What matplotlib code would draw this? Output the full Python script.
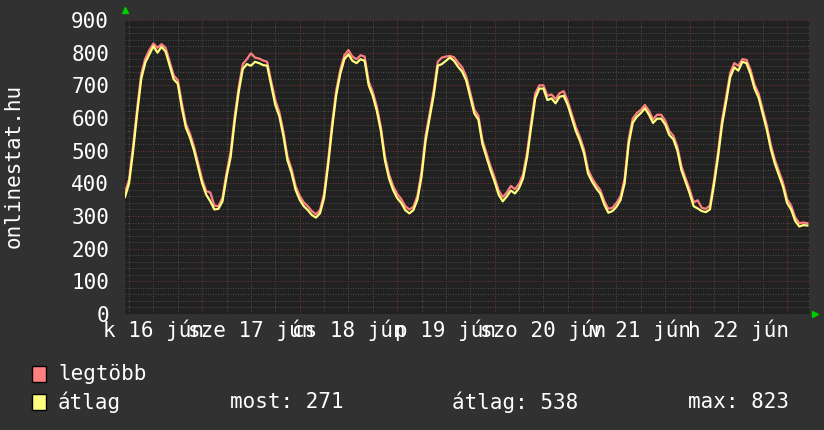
import matplotlib
matplotlib.use("Agg")
import matplotlib.pyplot as plt
from matplotlib.patches import Rectangle
import numpy as np

# hours since 16 jún 05:00 (one sample per hour)
avg_vals = [
    358, 400, 500, 615, 720, 770, 795, 820, 800, 818, 803, 760, 718, 705, 630, 570, 540, 500, 450, 400, 365, 345,
    320, 322, 345, 420, 480, 590, 680, 750, 765, 760, 772, 768, 762, 760, 700, 640, 605, 545, 470, 432, 380, 350,
    330, 318, 303, 295, 308, 355, 455, 570, 670, 735, 780, 795, 775, 768, 780, 775, 700, 668, 622, 560, 470, 415,
    380, 355, 340, 318, 308, 318, 350, 420, 530, 600, 670, 760, 765, 775, 785, 775, 757, 742, 715, 665, 614,
    595, 520, 480, 440, 405, 365, 345, 360, 378, 369, 385, 415, 480, 573, 660, 690, 690, 655, 660, 645, 665, 668,
    640, 600, 560, 530, 492, 430, 405, 385, 369, 335, 310, 315, 328, 349, 400, 520, 585, 604, 615, 630,
    610, 585, 598, 598, 580, 548, 535, 500, 440, 405, 370, 330, 323, 315, 312, 320, 395, 480, 580, 650, 725, 755,
    745, 772, 768, 735, 690, 662, 614, 565, 505, 460, 425, 390, 340, 320, 285, 268, 272, 271,
]
max_vals = [
    372, 412, 515, 630, 735, 782, 808, 828, 815, 826, 815, 772, 730, 716, 645, 582, 552, 512, 462, 412, 376, 372,
    332, 330, 356, 432, 495, 605, 695, 765, 780, 798, 785, 782, 776, 772, 712, 655, 618, 558, 482, 444, 392, 362,
    342, 330, 315, 305, 318, 368, 468, 585, 684, 748, 792, 808, 788, 780, 792, 788, 712, 680, 635, 572, 482, 428,
    392, 368, 352, 330, 320, 328, 362, 435, 545, 614, 685, 772, 785, 788, 790, 786, 770, 755, 728, 678, 626,
    607, 532, 492, 452, 417, 378, 358, 372, 392, 382, 398, 428, 495, 588, 675, 700, 700, 668, 672, 658, 676, 682,
    652, 612, 572, 542, 504, 442, 416, 396, 380, 346, 322, 325, 340, 360, 414, 535, 598, 615, 625, 640,
    622, 596, 610, 610, 592, 560, 546, 512, 452, 416, 382, 342, 348, 325, 322, 332, 408, 495, 595, 665, 738, 768,
    760, 780, 778, 748, 702, 675, 626, 578, 518, 472, 437, 402, 352, 332, 296, 278, 280, 278,
]
hours = np.arange(len(avg_vals))

day_labels = ["k 16 jún", "sze 17 jún", "cs 18 jún", "p 19 jún", "szo 20 jún", "v 21 jún", "h 22 jún"]
noon_hours = [7, 31, 55, 79, 103, 127, 151]
midnight_hours = [19, 43, 67, 91, 115, 139, 163]
minor_x = [1, 7, 13, 25, 31, 37, 49, 55, 61, 73, 79, 85, 97, 103, 109, 121, 127, 133, 145, 151, 157]
y_major = list(range(0, 1000, 100))
y_minor = [v for v in range(20, 900, 20) if v % 100 != 0]

legend_names = ["legtöbb", "átlag"]
stats_texts = ["most: 271", "átlag: 538", "max: 823"]

FONT = "DejaVu Sans Mono"
FS = 15
BG = "#313131"
CANVAS = "#212121"
RED = "#ff7f7f"
YEL = "#ffff7f"
GRID_MINOR = "#4a4a4a"
GRID_MAJOR = "#713030"

W, H = 824, 430
fig = plt.figure(figsize=(W / 100, H / 100), dpi=100, facecolor=BG)
ax = fig.add_axes([125 / W, 1 - 314 / H, 684 / W, 294 / H])
ax.set_facecolor(CANVAS)
ax.set_xlim(0, 168.4)
ax.set_ylim(0, 900)

for v in y_minor:
    ax.axhline(v, color=GRID_MINOR, lw=0.72, ls=(0, (1, 1.5)), zorder=1)
for h in minor_x:
    ax.axvline(h, color=GRID_MINOR, lw=0.72, ls=(0, (1, 1.5)), zorder=1)
for v in y_major[1:]:
    ax.axhline(v, color=GRID_MAJOR, lw=0.72, ls=(0, (1, 1.5)), zorder=1.5)
for h in midnight_hours:
    ax.axvline(h, color=GRID_MAJOR, lw=0.72, ls=(0, (1, 1.5)), zorder=1.5)

ax.plot(hours, max_vals, color=RED, lw=1.6, zorder=3)
ax.plot(hours, avg_vals, color=YEL, lw=1.6, zorder=4)

for s in ax.spines.values():
    s.set_visible(False)

ax.set_yticks(y_major)
ax.set_yticklabels([str(v) for v in y_major])
ax.set_xticks(noon_hours)
ax.set_xticklabels(day_labels)
ax.tick_params(axis="y", length=0, pad=11.5, labelsize=FS, labelcolor="white")
ax.tick_params(axis="x", length=0, pad=4, labelsize=FS, labelcolor="white")
for lab in ax.get_xticklabels() + ax.get_yticklabels():
    lab.set_fontfamily(FONT)

# axis arrows
ax.plot([0], [932], marker="^", color="#00cc00", ms=5, clip_on=False, zorder=5)
ax.plot([169.8], [0], marker=">", color="#00cc00", ms=5, clip_on=False, zorder=5)

fig.text(14 / W, 1 - 166 / H, "onlinestat.hu", rotation=90, ha="center", va="center",
         color="white", fontsize=FS, fontfamily=FONT)

# legend
for i, (name, col) in enumerate(zip(legend_names, [RED, YEL])):
    yc = [374, 402][i]
    fig.patches.append(Rectangle((32 / W, 1 - (yc + 8) / H), 14 / W, 16 / H,
                                 transform=fig.transFigure, facecolor=col, edgecolor="black", lw=1))
    fig.text(58 / W, 1 - yc / H, name, ha="left", va="center", color="white", fontsize=FS, fontfamily=FONT)

for xpos, s in zip([230, 452, 688], stats_texts):
    fig.text(xpos / W, 1 - 402 / H, s, ha="left", va="center", color="white", fontsize=FS, fontfamily=FONT)

fig.savefig("out.png", dpi=100, facecolor=BG)
